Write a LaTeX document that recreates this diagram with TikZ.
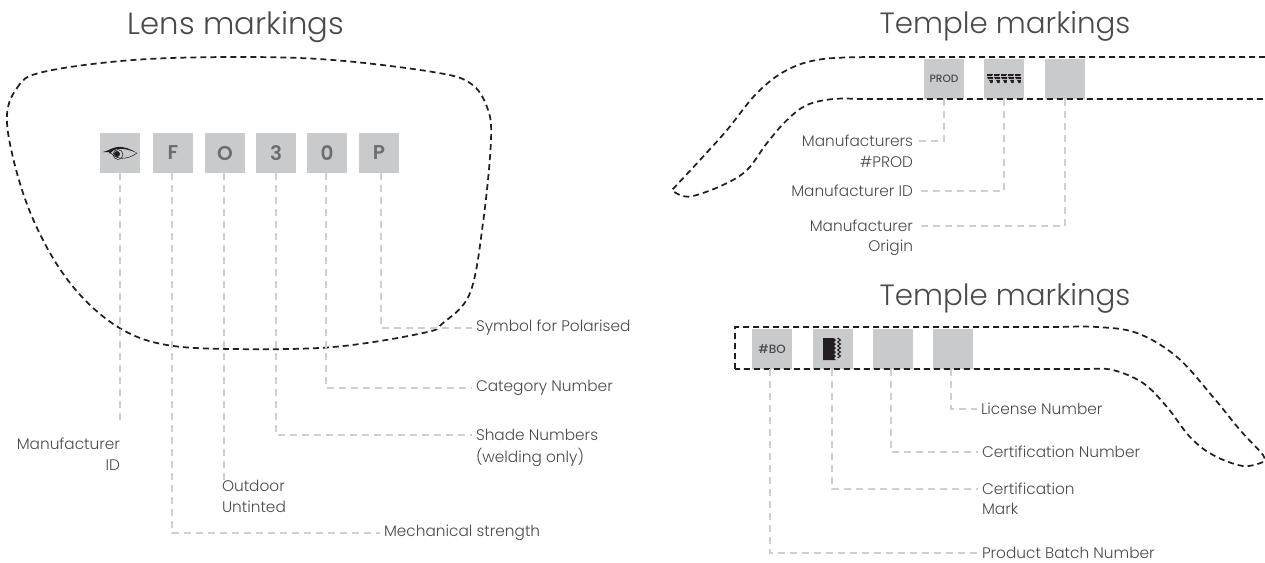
\documentclass[tikz,border=0pt]{standalone}
\usepackage{fontspec}
\setmainfont{Poppins Light}
\newfontfamily\boldf{Poppins Medium}
\newfontfamily\heavyf{Poppins SemiBold}
\usetikzlibrary{calc}
\definecolor{sq}{HTML}{C9CACC}
\definecolor{sqt}{HTML}{6D6E71}
\definecolor{txt}{HTML}{4A4A4C}
\definecolor{conn}{HTML}{CFCFD1}
\definecolor{outl}{HTML}{231F20}
\tikzset{
 x=0.75pt,y=-0.75pt,
 sqbox/.style={fill=sq,minimum size=30pt,inner sep=0,outer sep=0,anchor=north west,text=sqt,font=\heavyf\fontsize{15}{16}\selectfont},
 sqsmall/.style={sqbox,text=txt,font=\boldf\fontsize{8}{9}\selectfont},
 sqdark/.style={sqbox,text=txt,font=\boldf\fontsize{9}{10}\selectfont},
 lab/.style={text=txt,font=\fontsize{11.5}{15.75}\selectfont,inner sep=0,outer sep=3pt,align=left},
 labr/.style={lab,align=right},
 title/.style={text=txt,font=\fontsize{23}{26}\selectfont,inner sep=0},
 titleb/.style={text=txt,font=\fontsize{22}{26}\selectfont,inner sep=0},
 outline/.style={draw=outl,line width=1.3pt,dash pattern=on 4.5pt off 3pt},
 conline/.style={draw=conn,line width=1.1pt,dash pattern=on 5pt off 4pt},
}
\begin{document}
\begin{tikzpicture}
\useasboundingbox (0,0) rectangle (1265,562);
\node[title] (t1) at (236,27) {Lens markings};
\node[titleb] (t2) at (1005,26) {Temple markings};
\node[titleb] (t3) at (1005,298) {Temple markings};
% lens
\draw[outline] plot[smooth cycle,tension=0.6] coordinates {(7,123) (17,88) (43,72) (133,60) (240,57) (333,60) (433,72) (470,83) (487,107) (491,140) (483,223) (470,293) (443,323) (423,333) (333,347) (233,349) (167,345) (123,330) (83,298) (50,253) (23,193)};
% squares
\node[sqbox] (a1) at (100,133) {};
\node[sqbox] (a2) at (153,133) {F};
\node[sqbox] (a3) at (205,133) {O};
\node[sqbox] (a4) at (256,133) {3};
\node[sqbox] (a5) at (307,133) {0};
\node[sqbox] (a6) at (359,133) {P};
% eye
\begin{scope}[shift={(a1.center)}]
\fill[outl] (-17,-1) .. controls (-12,-2) and (-9,-5) .. (-3,-6) .. controls (3,-7) and (11,-4) .. (17,0) .. controls (10,-3) and (3,-5) .. (-3,-4) .. controls (-6,-3.5) and (-8,-2) .. (-10,1) -- (-11,-1) -- cycle;
\draw[outl,line width=.4pt] (-9,0) .. controls (-4,7) and (8,7) .. (17,0);
\draw[outl,line width=.4pt] (-2,1.5) circle (5);
\fill[outl] (-3,1) circle (3);
\end{scope}
% labels lens
\node[labr,anchor=east] (l1) at (124,454) {Manufacturer\\ID};
\node[lab,anchor=west,outer sep=0] (l2) at (222,496) {Outdoor\\Untinted};
\node[lab,anchor=west] (l3) at (380,533) {Mechanical strength};
\node[lab,anchor=west] (l4) at (472,435) {Shade Numbers};
\node[lab,anchor=west] (l4b) at (472,457) {(welding only)};
\node[lab,anchor=west] (l5) at (472,388) {Category Number};
\node[lab,anchor=west] (l6) at (472,328) {Symbol for Polarised};
\coordinate (c1) at (120,422);
\draw[conline] (a1.south) -- (c1);
\draw[conline] (a2.south) ++(-1,0) coordinate (a2s) |- (l3.west);
\draw[conline] (a3.south) ++(-1,0) coordinate (a3s) -- (a3s |- l2.north);
\draw[conline] (a4.south) |- (l4.west);
\draw[conline] (a5.south) ++(-1,0) coordinate (a5s) |- (l5.west);
\draw[conline] (a6.south) ++(2,0) coordinate (a6s) |- (l6.west);
% upper temple
\node[sqsmall] (b1) at (924,59) {PROD};
\node[sqbox] (b2) at (984,59) {};
\node[sqbox] (b3) at (1045,59) {};
\begin{scope}[shift={(b2.center)}]
\foreach \o in {-17,-10,-3,4,11}{
 \fill[outl] (\o,-5) -- (\o+6,-5) -- (\o+5,-3) -- (\o,-3) -- cycle;
 \fill[outl] (\o,-2) -- (\o+6,-2) -- (\o+6,0) -- (\o+1,0) -- cycle;
 \fill[outl] (\o+2,1) -- (\o+6,1) -- (\o+5.5,4) -- (\o+3.5,4) -- cycle;
}
\end{scope}
\draw[outline] (1265,57) -- (880,57) -- plot[smooth,tension=0.6] coordinates {(880,57) (823,59) (787,70) (757,93) (727,130) (700,160) (672,190)}
 -- plot[smooth,tension=0.6] coordinates {(672,190) (680,195) (693,196) (723,185) (747,170) (767,143) (787,120) (807,105) (833,99) (860,99)} -- (1265,99);
\node[labr,anchor=east] (m1) at (917,141) {Manufacturers};
\node[labr,anchor=east] (m1b) at (917,162) {\#PROD};
\node[labr,anchor=east] (m2) at (917,191) {Manufacturer ID};
\node[labr,anchor=east] (m3) at (917,226) {Manufacturer};
\node[labr,anchor=east] (m3b) at (917,248) {Origin};
\draw[conline] (b1.south east) ++(-20,0) coordinate (b1s) |- (m1.east);
\draw[conline] (b2.south) |- (m2.east);
\draw[conline] (b3.south) |- (m3.east);
% lower temple
\node[sqdark] (d1) at (752,329) {\#BO};
\node[sqbox] (d2) at (813,329) {};
\node[sqbox] (d3) at (873,329) {};
\node[sqbox] (d4) at (933,329) {};
\begin{scope}[shift={(d2.center)}]
\fill[outl] (-10,-11) -- (1,-11) -- (3,-9) -- (1,-7) -- (3,-5) -- (1,-3) -- (3,-1) -- (1,1) -- (3,3) -- (1,5) -- (3,7) -- (1,9) -- (3,11) -- (-10,11) -- cycle;
\foreach \v in {-9,-5,-1,3,7}{
 \draw[outl,line width=.8pt] (4.5,\v-2) -- (7.5,\v) -- (4.5,\v+2);
}
\end{scope}
\draw[outline] (735,369) -- (735,327) -- (1060,327) -- plot[smooth,tension=0.6] coordinates {(1060,327) (1097,327) (1137,333) (1177,357) (1213,397) (1240,430) (1263,455) (1263,462)}
 -- plot[smooth,tension=0.6] coordinates {(1263,462) (1243,466) (1213,455) (1190,437) (1167,407) (1143,383) (1113,370) (1090,369)} -- cycle;
\node[lab,anchor=west] (n4) at (977,409) {License Number};
\node[lab,anchor=west] (n3) at (978,452) {Certification Number};
\node[lab,anchor=west] (n2) at (978,489) {Certification};
\node[lab,anchor=west] (n2b) at (978,509) {Mark};
\node[lab,anchor=west] (n1) at (978,553) {Product Batch Number};
\draw[conline] (d1.south) ++(-2,0) coordinate (d1s) |- (n1.west);
\draw[conline] (d2.south) ++(-1,0) coordinate (d2s) |- (n2.west);
\draw[conline] (d3.south) ++(-2,0) coordinate (d3s) |- (n3.west);
\draw[conline] (d4.south) ++(-2,0) coordinate (d4s) |- (n4.west);
\end{tikzpicture}
\end{document}
